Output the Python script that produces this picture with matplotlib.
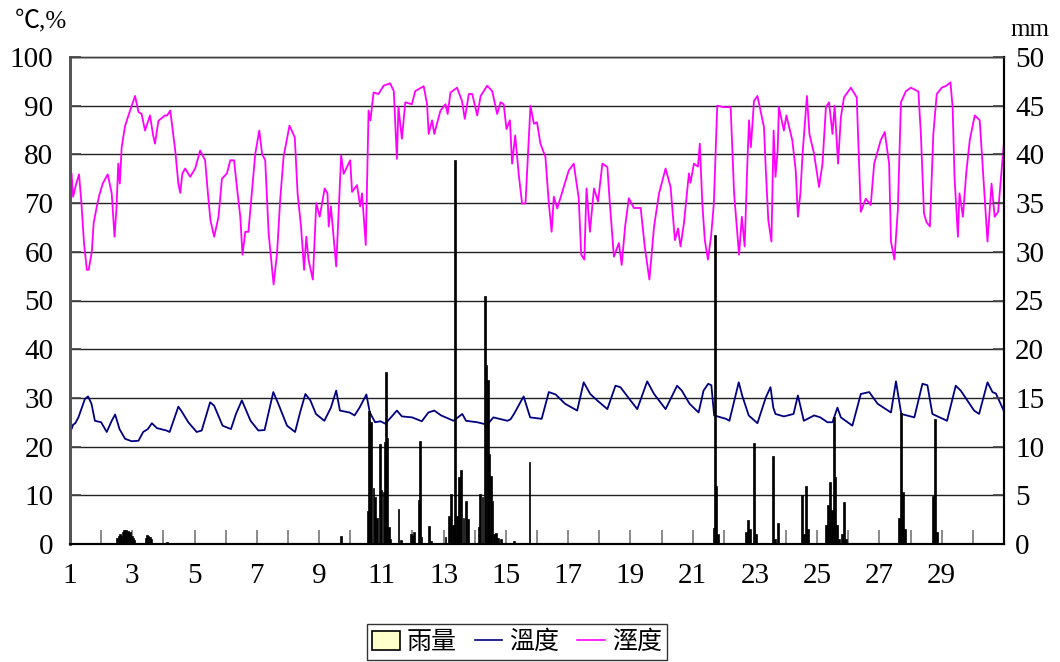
import numpy as np
import matplotlib
matplotlib.use('Agg')
import matplotlib.pyplot as plt
from matplotlib.patches import Patch
from matplotlib.lines import Line2D

# humidity (%), day-of-month positions
hum_day = [1.00, 1.05, 1.10, 1.20, 1.29, 1.36, 1.45, 1.54, 1.60, 1.70, 1.76, 1.86, 1.94, 2.05, 2.21, 2.34, 2.43, 2.49, 2.55, 2.60,
           2.66, 2.77, 2.93, 3.09, 3.20, 3.30, 3.41, 3.57, 3.67, 3.73, 3.84, 4.05, 4.12, 4.22, 4.38, 4.48, 4.54, 4.61, 4.70, 4.86,
           5.02, 5.18, 5.34, 5.43, 5.51, 5.63, 5.77, 5.88, 6.04, 6.15, 6.27, 6.36, 6.47, 6.54, 6.63, 6.73, 6.84, 6.95, 7.08, 7.17,
           7.27, 7.38, 7.54, 7.65, 7.75, 7.86, 8.05, 8.22, 8.31, 8.42, 8.52, 8.59, 8.66, 8.80, 8.91, 9.02, 9.18, 9.27, 9.31, 9.38,
           9.55, 9.71, 9.79, 10.0, 10.06, 10.22, 10.32, 10.38, 10.50, 10.59, 10.65, 10.75, 10.91, 11.07, 11.28, 11.40, 11.50, 11.55, 11.66, 11.77,
           11.98, 12.09, 12.36, 12.47, 12.52, 12.63, 12.70, 12.90, 13.06, 13.13, 13.22, 13.43, 13.59, 13.68, 13.81, 13.92, 14.08, 14.19, 14.40, 14.56,
           14.72, 14.83, 14.93, 15.02, 15.13, 15.20, 15.30, 15.41, 15.52, 15.63, 15.79, 15.90, 16.0, 16.11, 16.27, 16.38, 16.47, 16.54, 16.65, 16.86,
           17.02, 17.18, 17.34, 17.42, 17.52, 17.59, 17.70, 17.83, 17.96, 18.10, 18.26, 18.34, 18.47, 18.63, 18.72, 18.83, 18.95, 19.11, 19.33, 19.46,
           19.61, 19.76, 19.92, 20.13, 20.29, 20.43, 20.53, 20.61, 20.72, 20.88, 20.93, 21.04, 21.17, 21.23, 21.31, 21.39, 21.49, 21.59, 21.68, 21.79,
           22.0, 22.22, 22.33, 22.49, 22.58, 22.67, 22.76, 22.81, 22.87, 22.97, 23.08, 23.19, 23.29, 23.35, 23.43, 23.53, 23.60, 23.66, 23.73, 23.77,
           23.93, 24.01, 24.20, 24.31, 24.38, 24.46, 24.53, 24.67, 24.75, 24.90, 25.06, 25.17, 25.28, 25.38, 25.49, 25.56, 25.67, 25.76, 25.86, 26.08,
           26.27, 26.40, 26.56, 26.72, 26.83, 27.04, 27.17, 27.31, 27.37, 27.48, 27.59, 27.69, 27.85, 28.01, 28.25, 28.33, 28.43, 28.51, 28.62, 28.73,
           28.84, 29.0, 29.15, 29.28, 29.35, 29.41, 29.52, 29.57, 29.68, 29.79, 29.90, 30.06, 30.22, 30.47, 30.60, 30.70, 30.81, 30.99]
hum_val = [76.5, 76.1, 71.3, 74, 75.9, 70.6, 61.8, 56.3, 56.3, 60, 65.9, 69.3, 71.6, 74, 75.9, 72, 63.1, 68.6, 78.1, 74,
           81.5, 85.9, 89, 92, 88.7, 88.3, 84.9, 88, 83.9, 82.2, 86.9, 88, 88, 89, 80.8, 74, 72.1, 76.1, 77.1, 75.4,
           77.1, 80.8, 78.8, 72, 66.5, 63.1, 67.2, 75, 76.1, 78.8, 78.8, 73.3, 67.2, 59.4, 64.1, 64.1, 72, 80.1, 84.9, 80.1,
           78.8, 63.8, 53.3, 59.7, 70.6, 79.5, 85.9, 83.5, 72, 65.2, 56.3, 63.1, 58.4, 54.3, 70, 67.2, 73, 72, 65.2, 69.3,
           57, 79.8, 76, 78.8, 72.3, 73.7, 69.3, 72, 61.4, 89, 87, 92.7, 92.4, 94.1, 94.6, 93, 79.1, 89.7, 83.2, 90.7,
           90.3, 93, 94, 90.3, 84.2, 87, 84.2, 89, 90.3, 88.3, 92.7, 93.7, 91, 87.3, 92.4, 92.4, 88, 92, 94.1, 93,
           88.3, 90.7, 90.3, 85.2, 87, 78.1, 83.9, 76.1, 69.9, 69.9, 90, 86.3, 86.6, 82.2, 79.5, 69.9, 64.1, 71.3, 68.9, 73.3,
           76.7, 78.1, 71, 59.4, 58.4, 73, 64.1, 73, 70.3, 78.1, 77.4, 69.9, 59, 61.8, 57.3, 65.2, 71, 69, 69, 61.1,
           54.3, 65.2, 72, 77.1, 73.3, 62.4, 64.8, 61.1, 65.9, 76.1, 74.2, 78.1, 77.5, 82.2, 69.9, 62.4, 58.4, 63.1, 69.9, 90,
           89.7, 89.7, 72, 59.4, 67.2, 61.1, 78.8, 87, 81.5, 91, 92, 88.7, 85.6, 76.7, 66.5, 62.1, 84.9, 75.4, 80.8, 89.7,
           84.9, 88, 82.9, 76.7, 67.2, 72, 80.1, 92, 84.2, 80.1, 73.3, 78.1, 89.7, 90.7, 84.2, 90, 78.1, 87.6, 91.7, 93.7,
           91.7, 68.2, 70.9, 69.6, 78.1, 82.9, 84.6, 78.1, 62.1, 58.4, 68.6, 90.7, 93, 93.7, 92.9, 84.2, 67.9, 66.1, 65.2, 84.2,
           92.4, 93.7, 94.1, 94.8, 89.7, 75.4, 63.1, 72, 67.2, 76.4, 82.9, 88, 87, 62.1, 74, 67.2, 68.2, 81.8]

# temperature (deg C)
temp_day = [1.0, 1.05, 1.10, 1.17, 1.27, 1.48, 1.58, 1.69, 1.80, 2.0, 2.18, 2.34, 2.45, 2.59, 2.77, 2.98, 3.2, 3.35, 3.5, 3.63,
            3.79, 4.1, 4.2, 4.48, 4.58, 4.8, 5.07, 5.23, 5.5, 5.63, 5.9, 6.17, 6.33, 6.52, 6.8, 7.05, 7.25, 7.53, 7.69, 7.97,
            8.23, 8.39, 8.56, 8.72, 8.9, 9.17, 9.38, 9.55, 9.67, 9.98, 10.14, 10.3, 10.52, 10.63, 10.8, 10.97, 11.13, 11.5, 11.66, 11.99,
            12.3, 12.51, 12.7, 12.92, 13.32, 13.6, 13.72, 14.08, 14.4, 14.6, 15.05, 15.15, 15.26, 15.57, 15.78, 16.15, 16.38, 16.6, 16.9, 17.29,
            17.5, 17.71, 17.93, 18.26, 18.52, 18.68, 19.0, 19.22, 19.54, 19.76, 20.13, 20.5, 20.65, 20.9, 21.19, 21.35, 21.5, 21.6, 21.69, 22.07,
            22.18, 22.48, 22.59, 22.8, 23.08, 23.35, 23.5, 23.59, 23.66, 23.93, 24.24, 24.38, 24.57, 24.9, 25.1, 25.33, 25.49, 25.65, 25.76, 26.13,
            26.4, 26.67, 26.94, 27.37, 27.53, 27.7, 28.12, 28.38, 28.54, 28.7, 29.17, 29.45, 29.61, 30.04, 30.2, 30.47, 30.63, 30.74, 30.99]
temp_val = [24.2, 23.6, 24.5, 24.8, 26, 29.8, 30.3, 28.8, 25.3, 25, 23, 25.3, 26.6, 23.6, 21.6, 21.1, 21.2, 23, 23.6, 24.8,
            23.8, 23.3, 23, 28.2, 27.3, 25, 23, 23.3, 29.1, 28.4, 24.3, 23.6, 26.7, 29.5, 25.3, 23.3, 23.4, 31.2, 28.8, 24.3,
            23, 27, 30.8, 29.5, 26.7, 25.3, 28, 31.5, 27.4, 27, 26.4, 28, 30.7, 27, 25, 25.2, 24.7, 27.4, 26.2, 26,
            25.2, 27, 27.4, 26.4, 25.3, 26.7, 25.3, 25, 24.5, 26, 25.3, 25.6, 26.7, 30.3, 26, 25.7, 31.2, 30.7, 28.8, 27.4,
            33.2, 30.8, 29.5, 27.7, 32.5, 32.2, 29.5, 27.7, 33.4, 30.8, 27.7, 32.5, 31.5, 28.8, 27, 31.5, 32.9, 32.6, 26.4, 25.7,
            25.3, 33.2, 30.5, 26.4, 24.8, 30.1, 32.2, 28, 26.7, 26.2, 26.7, 30.5, 25.3, 26.4, 26, 25, 25, 28, 26, 24.3,
            30.8, 31.2, 28.8, 27, 33.4, 26.7, 26, 32.9, 32.6, 26.7, 25.3, 32.5, 31.5, 27.4, 26.7, 33.2, 31.2, 30.9, 27.4]

# hourly rainfall (mm)
rain_day = [2.52, 2.56, 2.60, 2.65, 2.69, 2.73, 2.77, 2.81, 2.85, 2.90, 2.94, 2.98, 3.02, 3.06,
            3.44, 3.48, 3.52, 3.56, 3.60, 4.12, 9.71,
            10.57, 10.59, 10.63, 10.67, 10.75, 10.81, 10.86, 10.95, 11.00, 11.07, 11.11, 11.15, 11.20, 11.24, 11.28,
            11.55, 11.62, 11.96, 12.01, 12.06, 12.20, 12.25, 12.29, 12.54, 12.60, 13.06,
            13.17, 13.24, 13.31, 13.38, 13.43, 13.49, 13.57, 13.64, 13.73, 13.79,
            14.13, 14.18, 14.25, 14.34, 14.38, 14.43, 14.47, 14.52, 14.57, 14.62, 14.68, 14.75, 14.84, 15.26, 15.76,
            21.67, 21.71, 21.75, 21.80, 22.70, 22.77, 22.83, 22.96, 23.03, 23.57, 23.64, 23.73,
            24.50, 24.57, 24.63, 24.70, 25.28, 25.34, 25.40, 25.47, 25.53, 25.57, 25.63, 25.69, 25.79, 25.86, 25.92,
            27.62, 27.69, 27.75, 27.81, 28.72, 28.78, 28.85]
rain_mm = [0.6, 0.8, 1.0, 0.8, 1.2, 1.4, 1.1, 1.4, 1.3, 1.0, 1.2, 0.8, 0.6, 0.4,
           0.6, 0.9, 0.8, 0.7, 0.5, 0.2, 0.8,
           3.4, 13.7, 3.8, 12.5, 5.7, 4.8, 2.7, 10.3, 5.5, 5.3, 10.5, 17.7, 10.9, 1.7, 0.5,
           3.6, 0.4, 1.0, 0.8, 1.2, 4.5, 10.6, 0.7, 1.8, 0.3, 0.7,
           2.9, 5.1, 1.9, 39.4, 2.9, 6.9, 7.6, 2.7, 4.4, 2.6,
           1.7, 5.1, 4.8, 25.5, 18.4, 16.8, 9.2, 7.0, 4.4, 1.0, 1.1, 0.6, 0.5, 0.3, 8.4,
           1.6, 31.7, 6.0, 1.0, 1.2, 2.5, 1.5, 10.4, 1.0, 9.0, 0.5, 2.2,
           5.0, 1.0, 6.0, 1.5, 2.0, 4.0, 6.4, 3.5, 13.0, 6.9, 2.0, 0.5, 1.0, 4.3, 0.5,
           2.7, 13.5, 5.3, 1.5, 4.9, 12.8, 1.2]

left_ticks = list(range(0, 101, 10))
right_ticks = list(range(0, 51, 5))
day_labels = list(range(1, 30, 2))

serif = 'Liberation Serif'
cjk = ['Noto Sans CJK TC', 'DejaVu Sans']

fig = plt.figure(figsize=(10.6, 6.62), dpi=100)
ax = fig.add_axes([70 / 1060, 1 - 544 / 662, (1004 - 70) / 1060, (544 - 57) / 662])
ax2 = ax.twinx()

ax.set_xlim(1, 31)
ax.set_ylim(0, 100)
ax2.set_ylim(0, 50)

for v in left_ticks[1:]:
    ax.axhline(v, color='#222222', lw=1.0, zorder=0)

ax.plot(hum_day, hum_val, color='#FF00FF', lw=1.3, zorder=3)
ax.plot(temp_day, temp_val, color='#000080', lw=1.3, zorder=3)
ax2.bar(rain_day, rain_mm, width=0.06, color='black', edgecolor='black', lw=0.5, zorder=4)

ax.set_yticks(left_ticks)
ax2.set_yticks(right_ticks)
ax.set_xticks(day_labels)
ax.set_xticks(range(1, 32), minor=True)
ax.set_xticklabels([str(d) for d in day_labels])

ax.tick_params(axis='y', direction='in', length=8, width=1.2, color='#444444', pad=12, labelsize=21)
ax2.tick_params(axis='y', direction='in', length=8, width=1.2, color='#444444', pad=8, labelsize=21)
ax.tick_params(axis='x', which='both', direction='in', length=10, width=1.2, color='#777777', pad=14, labelsize=21)
for lab in ax.get_xticklabels() + ax.get_yticklabels() + ax2.get_yticklabels():
    lab.set_fontfamily(serif)

for a in (ax, ax2):
    a.spines['top'].set_color('#444444')
    a.spines['top'].set_linewidth(1.0)
    a.spines['left'].set_color('#555555')
    a.spines['left'].set_linewidth(2.0)
    a.spines['right'].set_color('black')
    a.spines['right'].set_linewidth(1.5)
    a.spines['bottom'].set_color('black')
    a.spines['bottom'].set_linewidth(1.5)

fig.text(15 / 1060, 1 - 22 / 662, '℃,%', fontsize=18, family=[serif, 'Noto Sans CJK TC', 'DejaVu Sans'],
         ha='left', va='center')
fig.text(1010 / 1060, 1 - 30 / 662, 'mm', fontsize=18, family=serif, ha='left', va='center')

handles = [Patch(facecolor='#FFFFCC', edgecolor='black', lw=1.2),
           Line2D([], [], color='#000080', lw=1.2),
           Line2D([], [], color='#FF00FF', lw=1.2)]
leg = fig.legend(handles, ['雨量', '溫度', '溼度'], loc='center', bbox_to_anchor=(517 / 1060, 1 - 642 / 662),
                 ncol=3, frameon=True, fancybox=False, edgecolor='black', prop={'family': cjk, 'size': 18},
                 handlelength=1.1, handleheight=0.8, handletextpad=0.3, columnspacing=0.7,
                 borderpad=0.2, borderaxespad=0)
leg.get_frame().set_linewidth(1.0)

fig.savefig('out.png', dpi=100)
